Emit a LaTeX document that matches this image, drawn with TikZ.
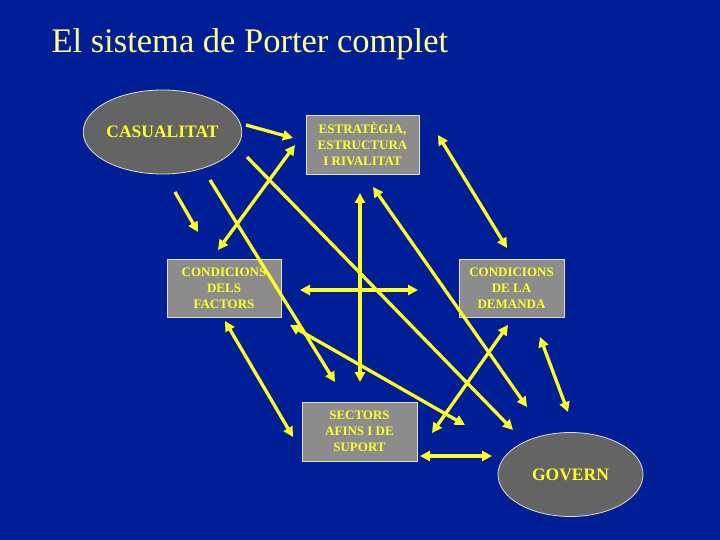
\documentclass[tikz,border=0pt]{standalone}
\usepackage{fontspec}
\setmainfont{Liberation Serif}
\usetikzlibrary{arrows.meta,shapes.geometric}
\definecolor{bgblue}{RGB}{0,30,150}
\definecolor{boxgray}{RGB}{140,140,140}
\definecolor{ovalgray}{RGB}{100,100,100}
\definecolor{edgepale}{RGB}{225,225,190}
\definecolor{yel}{RGB}{255,255,40}
\definecolor{titleyel}{RGB}{255,255,140}

\begin{document}
\begin{tikzpicture}[x=1pt,y=-1pt,
  box/.style={draw=edgepale,line width=0.8pt,fill=boxgray,text=yel,align=center,inner sep=0pt,
    font=\bfseries\fontsize{13}{16}\selectfont},
  oval/.style={ellipse,draw=edgepale,line width=0.8pt,fill=ovalgray,text=yel,inner sep=0pt,
    minimum width=145pt,minimum height=84pt,font=\bfseries\fontsize{17.5}{20}\selectfont},
  link/.style={draw=yel,line width=3.3pt,-{Triangle[length=10pt,width=10pt]}},
  linkboth/.style={draw=yel,line width=3.3pt,{Triangle[length=10pt,width=10pt]}-{Triangle[length=10pt,width=10pt]}}]
\fill[bgblue] (0,0) rectangle (720,540);
\node[anchor=base west,text=titleyel,font=\fontsize{34.5}{40}\selectfont] (title) at (48,53) {El sistema de Porter complet};
\node[oval] (cas) at (162.5,132) {CASUALITAT};
\node[oval] (gov) at (570.5,474.5) {GOVERN};
\node[box,minimum width=113pt,minimum height=59pt] (est) at (362.5,144.5) {ESTRATÈGIA,\\ESTRUCTURA\\I RIVALITAT};
\node[box,minimum width=114pt,minimum height=58pt] (fac) at (224,288) {CONDICIONS\\DELS\\FACTORS};
\node[box,minimum width=105pt,minimum height=58pt] (dem) at (511.5,288) {CONDICIONS\\DE LA\\DEMANDA};
\node[box,minimum width=115pt,minimum height=59pt] (sec) at (359.5,431.5) {SECTORS\\AFINS I DE\\SUPORT};
\coordinate (cas-est-a) at (246,125);
\coordinate (cas-est-b) at (293,138);
\coordinate (cas-fac-a) at (175,192);
\coordinate (cas-fac-b) at (198,232);
\coordinate (cas-sec-a) at (210,180);
\coordinate (cas-sec-b) at (335,382);
\coordinate (cas-gov-a) at (247,157);
\coordinate (cas-gov-b) at (513,430);
\coordinate (est-fac-a) at (295,145);
\coordinate (est-fac-b) at (218,250);
\coordinate (est-dem-a) at (438,135);
\coordinate (est-dem-b) at (507,248);
\coordinate (est-sec-a) at (360,193);
\coordinate (est-sec-b) at (360,382);
\coordinate (est-gov-a) at (373,187);
\coordinate (est-gov-b) at (527,407);
\coordinate (fac-dem-a) at (300,290);
\coordinate (fac-dem-b) at (418,290);
\coordinate (fac-sec-a) at (225,321);
\coordinate (fac-sec-b) at (293,437);
\coordinate (fac-gov-a) at (290,325);
\coordinate (fac-gov-b) at (465,425);
\coordinate (sec-dem-a) at (432,433);
\coordinate (sec-dem-b) at (508,325);
\coordinate (sec-gov-a) at (420,456);
\coordinate (sec-gov-b) at (492,456);
\coordinate (dem-gov-a) at (540,337);
\coordinate (dem-gov-b) at (568,412);
\draw[link] (cas-est-a) -- (cas-est-b);
\draw[link] (cas-fac-a) -- (cas-fac-b);
\draw[link] (cas-sec-a) -- (cas-sec-b);
\draw[link] (cas-gov-a) -- (cas-gov-b);
\draw[linkboth] (est-fac-a) -- (est-fac-b);
\draw[linkboth] (est-dem-a) -- (est-dem-b);
\draw[linkboth] (est-sec-a) -- (est-sec-b);
\draw[linkboth] (est-gov-a) -- (est-gov-b);
\draw[linkboth] (fac-dem-a) -- (fac-dem-b);
\draw[linkboth] (fac-sec-a) -- (fac-sec-b);
\draw[linkboth] (fac-gov-a) -- (fac-gov-b);
\draw[linkboth] (sec-dem-a) -- (sec-dem-b);
\draw[linkboth] (sec-gov-a) -- (sec-gov-b);
\draw[linkboth] (dem-gov-a) -- (dem-gov-b);
\end{tikzpicture}
\end{document}
